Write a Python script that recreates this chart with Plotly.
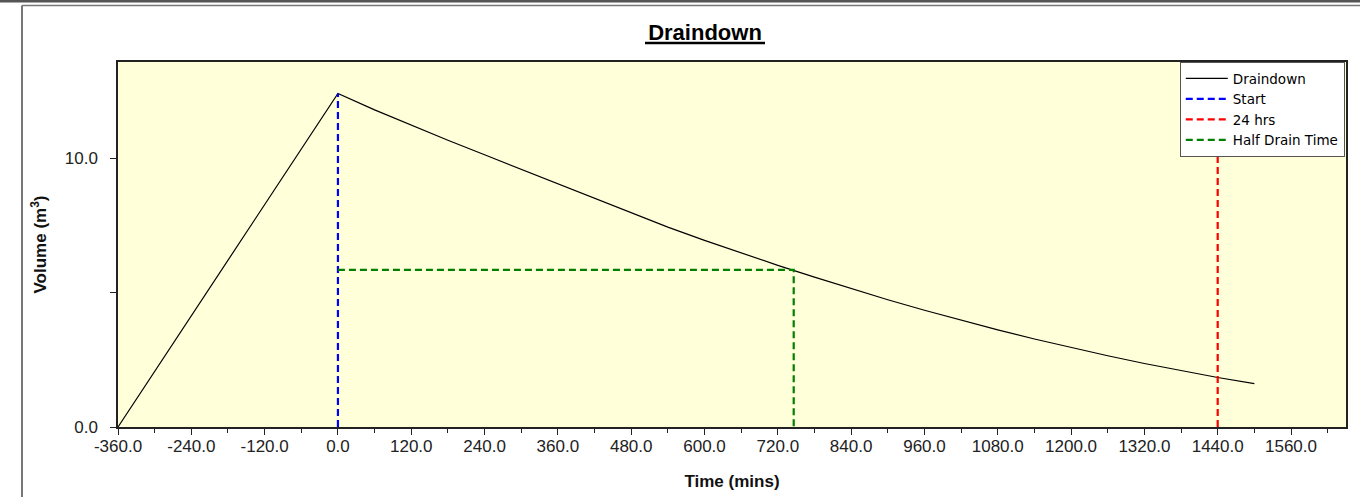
import plotly.graph_objects as go

# ---- data ----
time_mins = [-360, 0, 60, 120, 180, 240, 300, 360, 420, 480, 540, 600, 660, 720,
             780, 840, 900, 960, 1020, 1080, 1140, 1200, 1260, 1320, 1380, 1440, 1500]
volume = [0.0, 12.4, 11.79, 11.22, 10.66, 10.12, 9.58, 9.03, 8.48, 7.94, 7.43, 6.94, 6.47, 6.01,
          5.57, 5.14, 4.73, 4.34, 3.97, 3.61, 3.27, 2.95, 2.65, 2.36, 2.09, 1.84, 1.61]
start_time = 0
peak_volume = 12.4
day_time = 1440
half_time = 746
half_volume = 5.84

x_range = [-360, 1650]
y_range = [0, 13.57]
x_tick_vals = list(range(-360, 1561, 120))
x_tick_text = ["-360.0", "-240.0", "-120.0", "0.0", "120.0", "240.0", "360.0", "480.0",
               "600.0", "720.0", "840.0", "960.0", "1080.0", "1200.0", "1320.0", "1440.0", "1560.0"]
y_tick_vals = [0, 10]
y_tick_text = ["0.0", "10.0"]

# plot-area pixel geometry
L, R, T, B = 118, 1346, 62, 427
W, H = 1360, 497
def px(p):
    return (p - L) / (R - L)
def py(p):
    return (B - p) / (B - T)

fig = go.Figure()
fig.add_trace(go.Scatter(x=time_mins, y=volume, mode="lines", name="Draindown",
                         line=dict(color="#000000", width=1.2)))
fig.add_trace(go.Scatter(x=[start_time, start_time], y=[0, peak_volume], mode="lines",
                         name="Start", line=dict(color="#0000FF", width=2.2, dash="7px,4px")))
fig.add_trace(go.Scatter(x=[day_time, day_time], y=[0, y_range[1]], mode="lines",
                         name="24 hrs", line=dict(color="#FF0000", width=2.2, dash="7px,4px")))
fig.add_trace(go.Scatter(x=[start_time, half_time, half_time], y=[half_volume, half_volume, 0],
                         mode="lines", name="Half Drain Time",
                         line=dict(color="#008000", width=2.2, dash="7px,4px")))

tickfont = dict(family="Liberation Sans, Arial, sans-serif", size=17, color="#222222")
fig.update_layout(
    width=W, height=H,
    margin=dict(l=L, r=W - R, t=T, b=H - B, autoexpand=False),
    paper_bgcolor="#FFFFFF",
    plot_bgcolor="#FFFFD9",
    showlegend=True,
    title=dict(text="<b>Draindown</b>", x=705 / W, xref="container", xanchor="center",
               y=1 - 32 / H, yref="container", yanchor="middle",
               font=dict(family="Liberation Sans, Arial, sans-serif", size=22, color="#000000")),
    legend=dict(x=0.999, xanchor="right", y=1, yanchor="top", bgcolor="#FFFFFF",
                bordercolor="#555555", borderwidth=1,
                font=dict(family="DejaVu Sans, sans-serif", size=13.5, color="#000000"),
                tracegroupgap=0, itemwidth=42),
    xaxis=dict(range=x_range, tickvals=x_tick_vals, ticktext=x_tick_text, automargin=False,
               ticks="outside", ticklen=6, tickwidth=1, tickcolor="#222222",
               minor=dict(dtick=60, tick0=-360, ticks="outside", ticklen=4, tickcolor="#222222"),
               showgrid=False, zeroline=False, showline=True, linecolor="#222222", linewidth=1.5,
               mirror=True, tickfont=tickfont, ticklabelstandoff=-3,
               title=dict(text="<b>Time (mins)</b>", standoff=20,
                          font=dict(family="Liberation Sans, Arial, sans-serif", size=17, color="#111111"))),
    yaxis=dict(range=y_range, tickvals=y_tick_vals, ticktext=y_tick_text, automargin=False,
               ticks="outside", ticklen=6, tickwidth=1, tickcolor="#222222",
               minor=dict(dtick=5, tick0=0, ticks="outside", ticklen=6, tickcolor="#222222"),
               showgrid=False, zeroline=False, showline=True, linecolor="#222222", linewidth=1.5,
               mirror=True, tickfont=tickfont, ticklabelstandoff=9,
               title=dict(text="<b>Volume (m<sup>3</sup>)</b>", standoff=14,
                          font=dict(family="Liberation Sans, Arial, sans-serif", size=17, color="#111111"))),
    shapes=[
        # title underline
        dict(type="line", xref="paper", yref="paper", x0=px(645), x1=px(765), y0=py(43), y1=py(43),
             line=dict(color="#000000", width=2.5)),
        # window frame: top band and line, left line
        dict(type="rect", xref="paper", yref="paper", x0=px(0), x1=px(W), y0=py(0), y1=py(2.5),
             fillcolor="#555555", line=dict(width=0)),
        dict(type="line", xref="paper", yref="paper", x0=px(22), x1=px(W), y0=py(5.5), y1=py(5.5),
             line=dict(color="#777777", width=1.5)),
        dict(type="line", xref="paper", yref="paper", x0=px(22), x1=px(22), y0=py(5.5), y1=py(H),
             line=dict(color="#777777", width=2)),
    ],
)

fig.write_html("out.html", config={"displayModeBar": False},
               post_script="document.body.style.margin='0';document.body.style.overflow='hidden';")
